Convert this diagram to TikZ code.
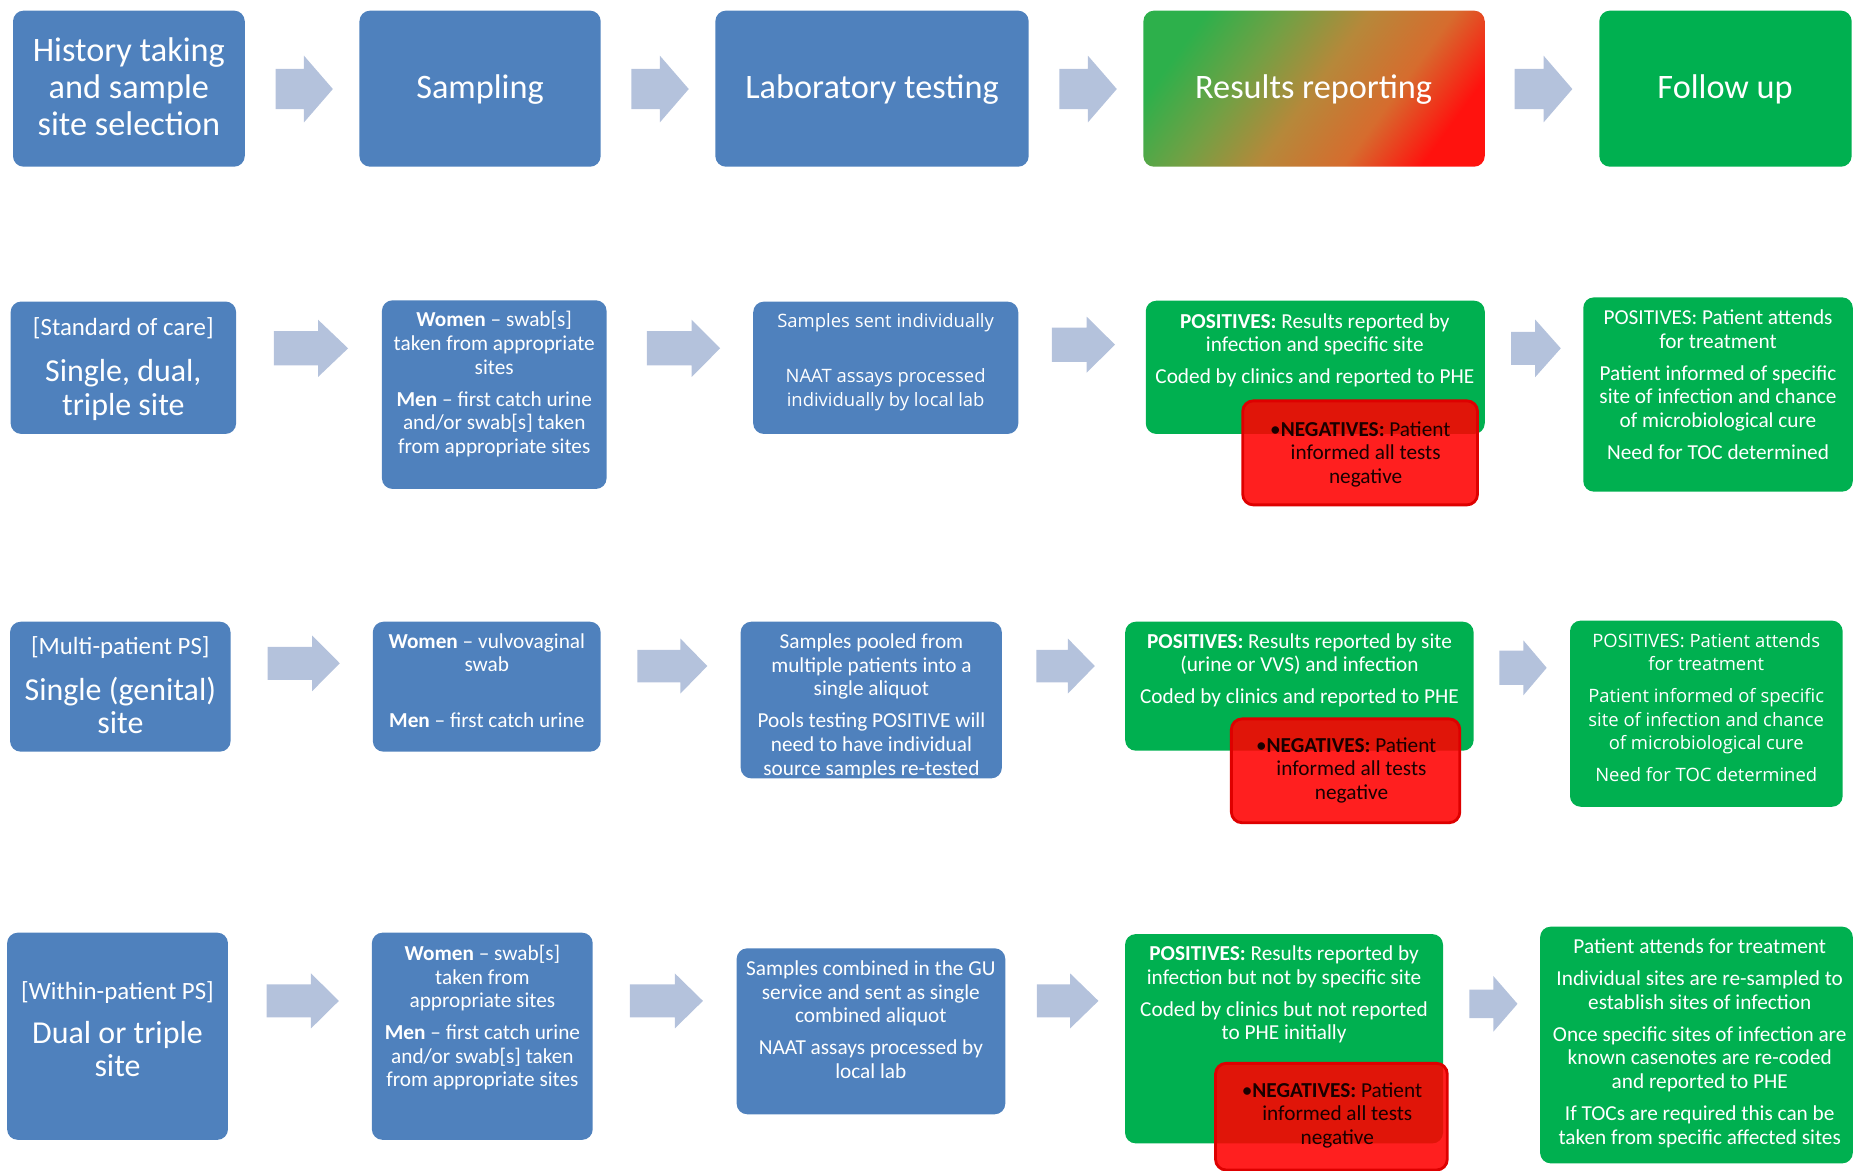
\documentclass[tikz,border=0pt]{standalone}
\usepackage{fontspec}
\setmainfont{Carlito}
\newfontfamily\osans{Open Sans}
\definecolor{blueC}{RGB}{79,129,189}
\definecolor{greenC}{RGB}{0,176,80}
\definecolor{arrowC}{RGB}{180,194,220}
\definecolor{redC}{RGB}{255,0,0}
\definecolor{redB}{RGB}{222,0,0}
\definecolor{gL}{RGB}{45,176,75}
\definecolor{gO}{RGB}{115,160,68}
\definecolor{gM}{RGB}{182,136,58}
\definecolor{gOr}{RGB}{214,108,46}
\definecolor{gR}{RGB}{255,18,14}
\definecolor{negT}{RGB}{25,0,0}
\pgfdeclarehorizontalshading{resgrad}{100bp}{color(0bp)=(gL); color(25bp)=(gL); color(38bp)=(gO); color(50bp)=(gM); color(63bp)=(gOr); color(75bp)=(gR); color(100bp)=(gR)}
\newcommand\mybox[6]{%
  \node[#1, minimum width={(#5-#3)*0.5pt}, minimum height={(#6-#4)*0.5pt}] (#2) at ({(#3+#5)/2},{(#4+#6)/2}) {};}
\newcommand\blockarr[6]{%
  \fill[arrowC] (#1,{#4-#5}) -- (#2,{#4-#5}) -- (#2,{#4-#6}) -- (#3,#4) -- (#2,{#4+#6}) -- (#2,{#4+#5}) -- (#1,{#4+#5}) -- cycle;}
\newcommand\negbul{\llap{\normalfont •}}
\tikzset{
  boxbase/.style={rounded corners=4.5pt, inner sep=0pt},
  bluebox/.style={boxbase, fill=blueC},
  greenbox/.style={boxbase, fill=greenC},
  redbox/.style={boxbase, fill=redC, fill opacity=0.88, draw=redB, line width=1.2pt},
  gradbox/.style={boxbase, shade, shading=resgrad, shading angle=-36},
  tw/.style={inner sep=0pt, align=center, text=white, anchor=north},
  ttop/.style={tw, font=\fontsize{14.5}{15.75}\selectfont},
  tbr/.style={tw, font=\fontsize{10.5}{12.6}\selectfont},
  tbig/.style={tw, font=\fontsize{13.5}{14.25}\selectfont},
  tsm/.style={tw, font=\fontsize{9}{10}\selectfont},
  tos/.style={tw, font=\osans\fontsize{7.8}{10}\selectfont},
  tneg/.style={tsm, text=negT},
}
\begin{document}
\begin{tikzpicture}[x=0.5pt,y=-0.5pt]
\useasboundingbox (0,0) rectangle (1568,990);
% ---------- row 1
\mybox{bluebox}{b11}{11}{9}{207}{141}
\mybox{bluebox}{b12}{304}{9}{508}{141}
\mybox{bluebox}{b13}{605}{9}{870}{141}
\mybox{gradbox}{b14}{967}{9}{1255.7}{141}
\mybox{greenbox}{b15}{1352.6}{9}{1566}{141}
\node[ttop] (t11) at (109,29.5) {\strut History taking\\and sample\\site selection};
\node[ttop] (t12) at (406,61) {\strut Sampling};
\node[ttop] (t13) at (737.5,61) {\strut Laboratory testing};
\node[ttop] (t14) at (1111,61) {\strut Results reporting};
\node[ttop] (t15) at (1459,61) {\strut Follow up};
\blockarr{233}{257}{281.5}{75.3}{17}{28.3}
\blockarr{534}{558}{582.5}{75.3}{17}{28.3}
\blockarr{896}{920}{944.5}{75.3}{17}{28.3}
\blockarr{1281}{1305.4}{1329.8}{75.3}{17}{28.3}
% ---------- row 2
\mybox{bluebox}{b21}{9}{255}{199.7}{367}
\mybox{bluebox}{b22}{323}{254}{513}{413.5}
\mybox{bluebox}{b23}{637}{255.1}{861.2}{367}
\mybox{greenbox}{b24}{969}{254.3}{1255.7}{367}
\mybox{redbox}{n24}{1051}{339}{1249.6}{427}
\mybox{greenbox}{b25}{1339}{251.5}{1567}{415.8}
\node[tbr] (t21a) at (104.3,265.3) {\strut [Standard of care]};
\node[tbig] (t21b) at (104.3,302.4) {\strut Single, dual,\\triple site};
\node[tsm] (t22) at (418,262) {\strut\textbf{Women} – swab[s]\\taken from appropriate\\sites\\[3.5pt]\textbf{Men} – first catch urine\\and/or swab[s] taken\\from appropriate sites};
\node[tos] (t23) at (749,262.2) {\strut Samples sent individually\\[13.5pt]NAAT assays processed\\individually by local lab};
\node[tsm] (t24) at (1112,263) {\strut\textbf{POSITIVES:} Results reported by\\infection and specific site\\[3.5pt]Coded by clinics and reported to PHE};
\node[tneg] (u24) at (1155,354.4) {\strut\negbul\textbf{NEGATIVES:} Patient\\informed all tests\\negative};
\node[tsm] (t25) at (1453,260.2) {\strut POSITIVES: Patient attends\\for treatment\\[3.5pt]Patient informed of specific\\site of infection and chance\\of microbiological cure\\[3.5pt]Need for TOC determined};
\blockarr{231.6}{269}{294.4}{294.6}{14.5}{24.2}
\blockarr{547}{585}{609}{294.6}{14.5}{24.2}
\blockarr{889.5}{919}{943}{291.5}{14.5}{23.7}
\blockarr{1278}{1298.4}{1320}{294.6}{14}{24.3}
% ---------- row 3
\mybox{bluebox}{b31}{8.5}{525.8}{195}{635.7}
\mybox{bluebox}{b32}{315.3}{525.8}{508}{635.7}
\mybox{bluebox}{b33}{626.4}{525.8}{847.3}{658.3}
\mybox{greenbox}{b34}{951.6}{525.8}{1246.3}{634.9}
\mybox{redbox}{n34}{1041.4}{608}{1234.6}{695.8}
\mybox{greenbox}{b35}{1327.8}{524.9}{1558.4}{682.3}
\node[tbr] (t31a) at (101.8,535.3) {\strut [Multi-patient PS]};
\node[tbig] (t31b) at (101.8,571.9) {\strut Single (genital)\\site};
\node[tsm] (t32) at (411.7,533.7) {\strut\textbf{Women} – vulvovaginal\\swab\\[13.5pt]\textbf{Men} – first catch urine};
\node[tsm] (t33) at (737,534.2) {\strut Samples pooled from\\multiple patients into a\\single aliquot\\[3.5pt]Pools testing POSITIVE will\\need to have individual\\source samples re-tested};
\node[tsm] (t34) at (1099,533.7) {\strut\textbf{POSITIVES:} Results reported by site\\(urine or VVS) and infection\\[3.5pt]Coded by clinics and reported to PHE};
\node[tneg] (u34) at (1143,621.7) {\strut\negbul\textbf{NEGATIVES:} Patient\\informed all tests\\negative};
\node[tos] (t35) at (1443,532.9) {\strut POSITIVES: Patient attends\\for treatment\\[3.4pt]Patient informed of specific\\site of infection and chance\\of microbiological cure\\[3.6pt]Need for TOC determined};
\blockarr{226.4}{264}{287.4}{561}{14}{23.5}
\blockarr{539}{575.4}{598.2}{563.3}{13.7}{23.3}
\blockarr{876.4}{903.1}{925.9}{563.3}{13.7}{23.3}
\blockarr{1268}{1288.3}{1308.1}{564.8}{14.5}{23.3}
% ---------- row 4
\mybox{bluebox}{b41}{6}{788.8}{192.8}{964}
\mybox{bluebox}{b42}{314.5}{788.8}{501.3}{964}
\mybox{bluebox}{b43}{623}{802}{850.2}{942.4}
\mybox{greenbox}{b44}{951.5}{790}{1220.4}{967}
\mybox{redbox}{n44}{1028}{899.3}{1224}{989.5}
\mybox{greenbox}{b45}{1302.5}{783.7}{1567}{983.9}
\node[tbr] (t41a) at (99.4,827.3) {\strut [Within-patient PS]};
\node[tbig] (t41b) at (99.4,861.9) {\strut Dual or triple\\site};
\node[tsm] (t42) at (408,797.9) {\strut\textbf{Women} – swab[s]\\taken from\\appropriate sites\\[3.5pt]\textbf{Men} – first catch urine\\and/or swab[s] taken\\from appropriate sites};
\node[tsm] (t43) at (736.5,810.6) {\strut Samples combined in the GU\\service and sent as single\\combined aliquot\\[3.5pt]NAAT assays processed by\\local lab};
\node[tsm] (t44) at (1086,797.9) {\strut\textbf{POSITIVES:} Results reported by\\infection but not by specific site\\[3.5pt]Coded by clinics but not reported\\to PHE initially};
\node[tneg] (u44) at (1131,913.5) {\strut\negbul\textbf{NEGATIVES:} Patient\\informed all tests\\negative};
\node[tsm] (t45) at (1437.5,792.2) {\strut Patient attends for treatment\\[3.5pt]Individual sites are re-sampled to\\establish sites of infection\\[3.5pt]Once specific sites of infection are\\known casenotes are re-coded\\and reported to PHE\\[3.5pt]If TOCs are required this can be\\taken from specific affected sites};
\blockarr{225.5}{263}{286.6}{846.5}{14}{23.3}
\blockarr{532.8}{570.7}{594.5}{846.5}{14}{23.3}
\blockarr{876.9}{905}{929}{846.5}{14}{23.3}
\blockarr{1242.7}{1263}{1283.4}{849}{12}{23.5}
\end{tikzpicture}
\end{document}
